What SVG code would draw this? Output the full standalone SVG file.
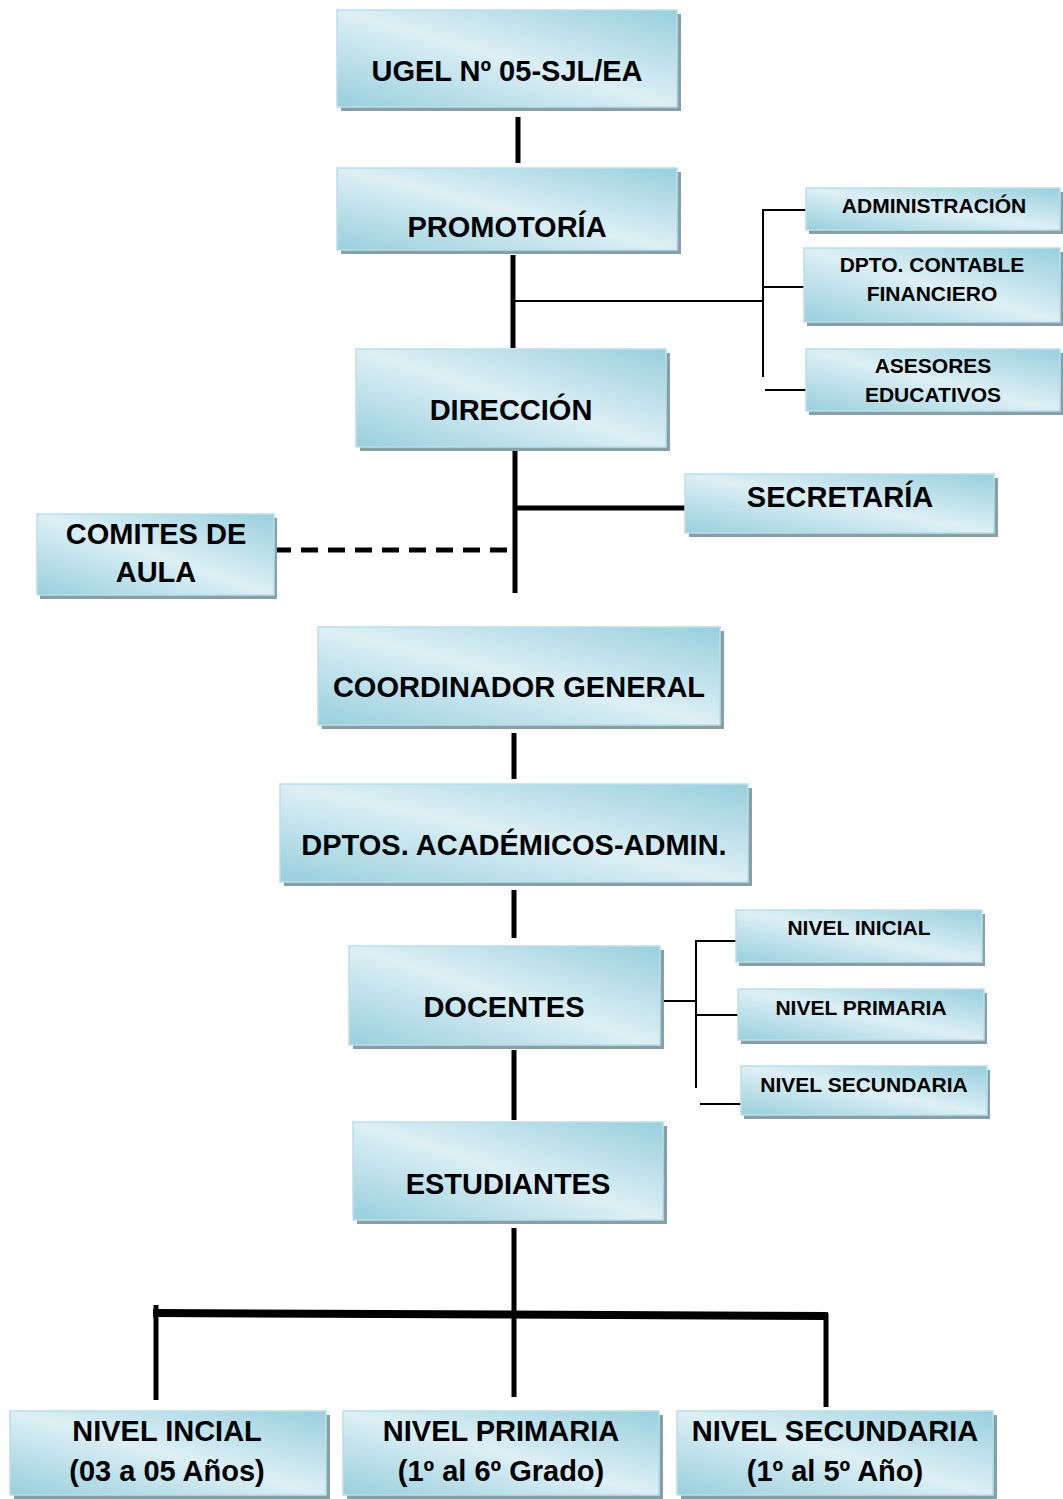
<svg xmlns="http://www.w3.org/2000/svg" width="1063" height="1499" viewBox="0 0 1063 1499">
<style>
.sh{fill:#8a9ea6}
.bx{fill:url(#g);stroke:#b9e0ea;stroke-width:1.5}
.t{font-family:"Liberation Sans",Arial,sans-serif;font-weight:bold;fill:#000;text-anchor:middle}
.big{font-size:29px}
.sm{font-size:21px}
.thick{stroke:#000;stroke-width:5;fill:none}
.thin{stroke:#000;stroke-width:2;fill:none}
</style>
<defs>
<linearGradient id="g" x1="1" y1="0" x2="0" y2="1">
<stop offset="0" stop-color="#98cfdd"/>
<stop offset="0.5" stop-color="#ddeff5"/>
<stop offset="1" stop-color="#98cfdd"/>
</linearGradient>
</defs>
<rect width="1063" height="1499" fill="#fff"/>
<g id="connectors">
<line class="thick" x1="518" y1="117" x2="518" y2="163"/>
<line class="thick" x1="513" y1="255" x2="513" y2="348"/>
<line class="thin" x1="513" y1="301" x2="763" y2="301"/>
<line class="thin" x1="763" y1="210" x2="763" y2="377"/>
<line class="thin" x1="762" y1="210" x2="806" y2="210"/>
<line class="thin" x1="762" y1="287" x2="804" y2="287"/>
<line class="thin" x1="765" y1="390" x2="806" y2="390"/>
<line class="thick" x1="515" y1="447" x2="515" y2="593"/>
<line class="thick" x1="515" y1="508" x2="685" y2="508"/>
<line stroke="#000" stroke-width="5" stroke-dasharray="17,10" x1="274" y1="550" x2="515" y2="550"/>
<line class="thick" x1="514" y1="733" x2="514" y2="779"/>
<line class="thick" x1="514" y1="890" x2="514" y2="938"/>
<line class="thin" x1="660" y1="1001" x2="696" y2="1001"/>
<line class="thin" x1="696" y1="941" x2="696" y2="1088"/>
<line class="thin" x1="695" y1="941" x2="738" y2="941"/>
<line class="thin" x1="695" y1="1015" x2="740" y2="1015"/>
<line class="thin" x1="700" y1="1104" x2="742" y2="1104"/>
<line class="thick" x1="514" y1="1050" x2="514" y2="1120"/>
<line class="thick" x1="514" y1="1228" x2="514" y2="1397"/>
<polygon points="153,1309 828,1312 828,1320 153,1317" fill="#000"/>
<line class="thick" x1="156" y1="1305" x2="156" y2="1400"/>
<line class="thick" x1="826" y1="1313" x2="826" y2="1407"/>
</g>
<g id="ugel"><rect class="sh" x="341" y="14" width="340" height="97"/><rect class="bx" x="337" y="10" width="340" height="97"/><text class="t big" x="507" y="81">UGEL Nº 05-SJL/EA</text></g>
<g id="promotoria"><rect class="sh" x="341" y="172" width="340" height="82"/><rect class="bx" x="337" y="168" width="340" height="82"/><text class="t big" x="507" y="237">PROMOTORÍA</text></g>
<g id="administracion"><rect class="sh" x="809" y="192" width="254" height="42"/><rect class="bx" x="806" y="188" width="254" height="42"/><text class="t sm" x="934" y="213">ADMINISTRACIÓN</text></g>
<g id="contable"><rect class="sh" x="807" y="252" width="256" height="74"/><rect class="bx" x="804" y="248" width="256" height="74"/><text class="t sm" x="932" y="272">DPTO. CONTABLE</text><text class="t sm" x="932" y="301">FINANCIERO</text></g>
<g id="asesores"><rect class="sh" x="809" y="353" width="254" height="62"/><rect class="bx" x="806" y="349" width="254" height="62"/><text class="t sm" x="933" y="373">ASESORES</text><text class="t sm" x="933" y="402">EDUCATIVOS</text></g>
<g id="direccion"><rect class="sh" x="360" y="353" width="310" height="98"/><rect class="bx" x="356" y="349" width="310" height="98"/><text class="t big" x="511" y="420">DIRECCIÓN</text></g>
<g id="secretaria"><rect class="sh" x="689" y="478" width="309" height="59"/><rect class="bx" x="685" y="474" width="309" height="59"/><text class="t big" x="840" y="507">SECRETARÍA</text></g>
<g id="comites"><rect class="sh" x="40" y="518" width="237" height="81"/><rect class="bx" x="37" y="514" width="237" height="81"/><text class="t big" x="156" y="544">COMITES DE</text><text class="t big" x="156" y="582">AULA</text></g>
<g id="coordinador"><rect class="sh" x="322" y="631" width="402" height="98"/><rect class="bx" x="318" y="627" width="402" height="98"/><text class="t big" x="519" y="697">COORDINADOR GENERAL</text></g>
<g id="dptos"><rect class="sh" x="284" y="788" width="468" height="98"/><rect class="bx" x="280" y="784" width="468" height="98"/><text class="t big" x="514" y="855">DPTOS. ACADÉMICOS-ADMIN.</text></g>
<g id="docentes"><rect class="sh" x="353" y="950" width="311" height="99"/><rect class="bx" x="349" y="946" width="311" height="99"/><text class="t big" x="504" y="1017">DOCENTES</text></g>
<g id="nivel-inicial-d"><rect class="sh" x="739" y="914" width="246" height="52"/><rect class="bx" x="736" y="910" width="246" height="52"/><text class="t sm" x="859" y="935">NIVEL INICIAL</text></g>
<g id="nivel-primaria-d"><rect class="sh" x="741" y="993" width="246" height="51"/><rect class="bx" x="738" y="989" width="246" height="51"/><text class="t sm" x="861" y="1015">NIVEL PRIMARIA</text></g>
<g id="nivel-secundaria-d"><rect class="sh" x="744" y="1070" width="246" height="49"/><rect class="bx" x="741" y="1066" width="246" height="49"/><text class="t sm" x="864" y="1092">NIVEL SECUNDARIA</text></g>
<g id="estudiantes"><rect class="sh" x="357" y="1126" width="310" height="98"/><rect class="bx" x="353" y="1122" width="310" height="98"/><text class="t big" x="508" y="1194">ESTUDIANTES</text></g>
<g id="nivel-inicial"><rect class="sh" x="14" y="1415" width="316" height="84"/><rect class="bx" x="10" y="1411" width="316" height="84"/><text class="t big" x="167" y="1441">NIVEL INCIAL</text><text class="t big" x="167" y="1481">(03 a 05 Años)</text></g>
<g id="nivel-primaria"><rect class="sh" x="347" y="1415" width="316" height="84"/><rect class="bx" x="343" y="1411" width="316" height="84"/><text class="t big" x="501" y="1441">NIVEL PRIMARIA</text><text class="t big" x="501" y="1481">(1º al 6º Grado)</text></g>
<g id="nivel-secundaria"><rect class="sh" x="681" y="1415" width="316" height="84"/><rect class="bx" x="677" y="1411" width="316" height="84"/><text class="t big" x="835" y="1441">NIVEL SECUNDARIA</text><text class="t big" x="835" y="1481">(1º al 5º Año)</text></g>
</svg>
